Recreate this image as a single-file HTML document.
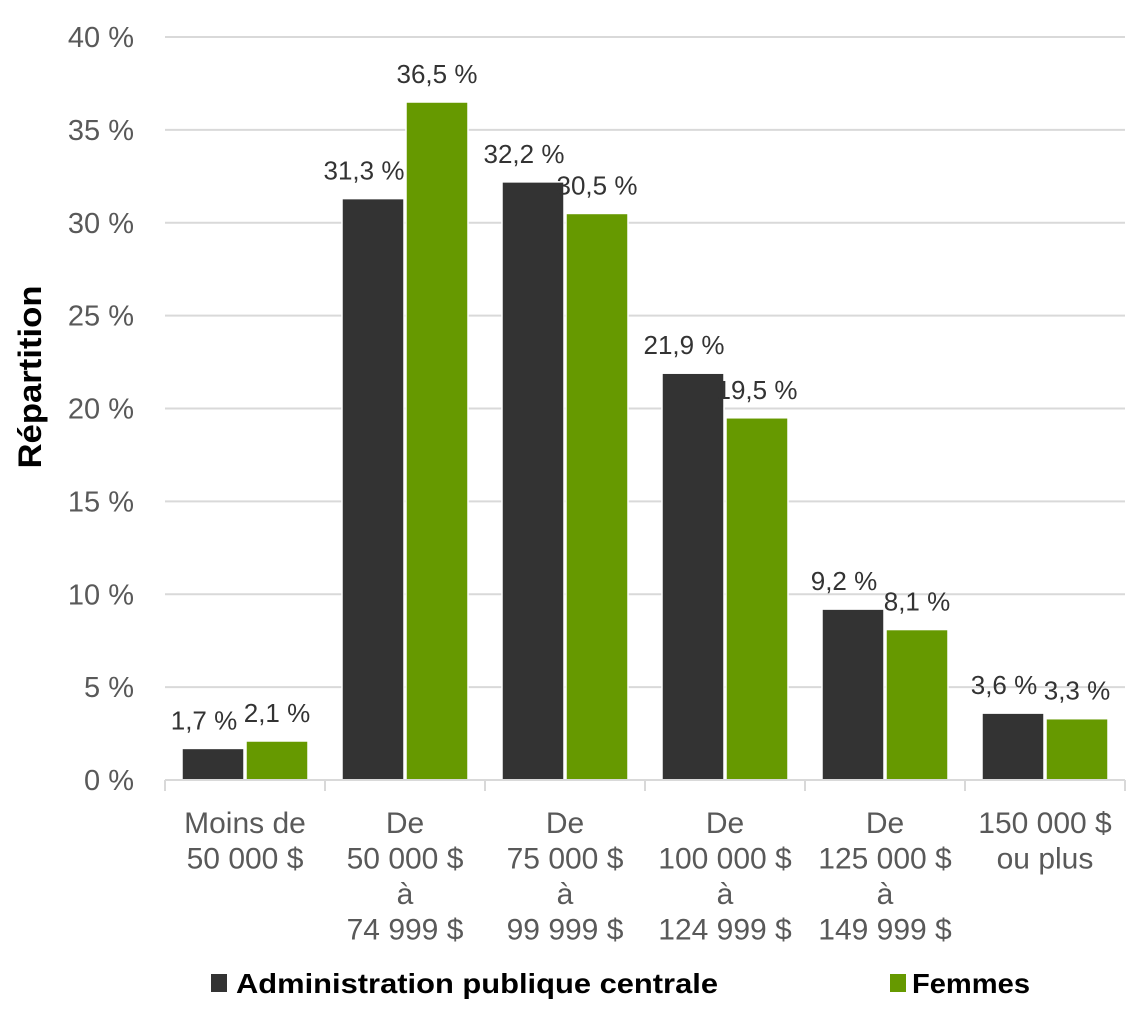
<!DOCTYPE html>
<html><head><meta charset="utf-8"><style>
html,body{margin:0;padding:0;background:#fff;}
svg{display:block;font-family:"Liberation Sans",sans-serif;}
</style></head><body>
<svg id="chart" width="1140" height="1022" viewBox="0 0 1140 1022" xmlns="http://www.w3.org/2000/svg">
<g id="grid"></g>
<g id="yticks"></g>
<g id="bars"></g>
<g id="labels"></g>
<g id="xaxis"></g>
<text transform="translate(41,377) rotate(-90)" text-anchor="middle" font-size="32" font-weight="bold" fill="#000" textLength="183" lengthAdjust="spacingAndGlyphs">Répartition</text>
<g>
<rect x="211" y="974" width="16" height="18" fill="#333333"/>
<text x="236" y="993" font-size="28" font-weight="bold" fill="#000" textLength="482" lengthAdjust="spacingAndGlyphs">Administration publique centrale</text>
<rect x="890" y="974" width="16" height="18" fill="#669900"/>
<text x="912" y="993" font-size="28" font-weight="bold" fill="#000" textLength="118" lengthAdjust="spacingAndGlyphs">Femmes</text>
</g>
</svg>
<script>
const categories = [["Moins de","50 000 $"],["De","50 000 $","à","74 999 $"],["De","75 000 $","à","99 999 $"],["De","100 000 $","à","124 999 $"],["De","125 000 $","à","149 999 $"],["150 000 $","ou plus"]];
const adminValues = [1.7, 31.3, 32.2, 21.9, 9.2, 3.6];
const femmesValues = [2.1, 36.5, 30.5, 19.5, 8.1, 3.3];
const adminLabels = ["1,7 %","31,3 %","32,2 %","21,9 %","9,2 %","3,6 %"];
const femmesLabels = ["2,1 %","36,5 %","30,5 %","19,5 %","8,1 %","3,3 %"];
const yTicks = [0,5,10,15,20,25,30,35,40];
const yTickLabels = ["0 %","5 %","10 %","15 %","20 %","25 %","30 %","35 %","40 %"];

const NS = "http://www.w3.org/2000/svg";
const x0 = 165, x1 = 1125, yBase = 780, yTop = 37, yMax = 40;
const bandW = (x1 - x0) / categories.length;
function y(v){ return yBase - v / yMax * (yBase - yTop); }
function bx(i){ return x0 + i * bandW; }
function mk(tag, attrs, parent){ const e = document.createElementNS(NS, tag); for (const k in attrs) e.setAttribute(k, attrs[k]); parent.appendChild(e); return e; }

const grid = document.getElementById('grid'), yt = document.getElementById('yticks');
yTicks.forEach((t, i) => {
  if (t > 0) {
    const l = mk('line', {x1:x0, x2:x1, y1:y(t), y2:y(t), stroke:'#d9d9d9', 'stroke-width':2}, grid);
    
    
  }
  const tx = mk('text', {x:134, y:y(t)+10, 'text-anchor':'end', 'font-size':29, fill:'#595959'}, yt);
  tx.textContent = yTickLabels[i];
  
  
});

const bars = document.getElementById('bars'), labels = document.getElementById('labels');
const bw = 62;
categories.forEach((c, i) => {
  const ax = bx(i) + 17, fx = ax + bw + 2;
  const a = mk('rect', {x:ax, y:y(adminValues[i]), width:bw, height:yBase - y(adminValues[i]), fill:'#333333', stroke:'#fff', 'stroke-width':1.5}, bars);
  
  
  const f = mk('rect', {x:fx, y:y(femmesValues[i]), width:bw, height:yBase - y(femmesValues[i]), fill:'#669900', stroke:'#fff', 'stroke-width':1.5}, bars);
  
  
  const la = mk('text', {x:ax + bw/2 - 9, y:y(adminValues[i]) - 19, 'text-anchor':'middle', 'font-size':26, fill:'#333'}, labels);
  la.textContent = adminLabels[i];
  
  
  const lf = mk('text', {x:fx + bw/2, y:y(femmesValues[i]) - 19, 'text-anchor':'middle', 'font-size':26, fill:'#333'}, labels);
  lf.textContent = femmesLabels[i];
  
  
});

const xa = document.getElementById('xaxis');
const ax = mk('line', {x1:x0, x2:x1, y1:yBase, y2:yBase, stroke:'#d9d9d9', 'stroke-width':2}, xa);


for (let i = 0; i <= categories.length; i++) {
  const t = mk('line', {x1:bx(i), x2:bx(i), y1:yBase, y2:yBase + 11, stroke:'#d9d9d9', 'stroke-width':2}, xa);
  
  
}
categories.forEach((c, i) => {
  const t = mk('text', {'text-anchor':'middle', 'font-size':30, fill:'#595959'}, xa);
  
  
  c.forEach((line, j) => {
    const s = mk('tspan', {x:bx(i) + bandW/2, y:833 + j*35.5}, t);
    s.textContent = line;
  });
});
</script>
</body></html>
